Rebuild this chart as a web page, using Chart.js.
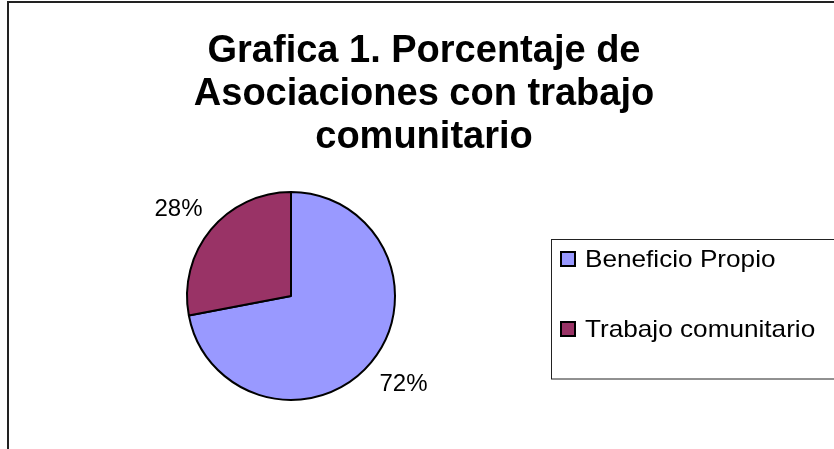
<!DOCTYPE html>
<html>
<head>
<meta charset="utf-8">
<script src="https://cdn.jsdelivr.net/npm/chart.js@4/dist/chart.umd.min.js"></script>
<style>
html,body{margin:0;padding:0;background:#fff;overflow:hidden;}
#wrap{position:relative;width:834px;height:449px;}
canvas{display:block;}
</style>
</head>
<body>
<div id="wrap"><canvas id="c" width="834" height="449"></canvas></div>
<script>
const categories = ["Beneficio Propio", "Trabajo comunitario"];
const values = [72, 28];
const colors = ["#9999FF", "#993366"];
const titleLines = ["Grafica 1. Porcentaje de", "Asociaciones con trabajo", "comunitario"];

const FONT = "'Liberation Sans', Arial, sans-serif";

const decor = {
  id: 'decor',
  beforeDraw(chart) {
    const ctx = chart.ctx;
    ctx.save();
    ctx.fillStyle = '#fff';
    ctx.fillRect(0, 0, chart.width, chart.height);
    ctx.strokeStyle = '#222';
    ctx.lineWidth = 2;
    ctx.strokeRect(8, 2, 900, 600);
    ctx.restore();
  },
  afterDraw(chart) {
    const ctx = chart.ctx;
    ctx.save();
    // title
    ctx.fillStyle = '#000';
    ctx.font = 'bold 38px ' + FONT;
    ctx.textAlign = 'center';
    ctx.textBaseline = 'alphabetic';
    const baselines = [62, 105, 148];
    titleLines.forEach((t, i) => ctx.fillText(t, 424, baselines[i]));

    // percentage labels
    const meta = chart.getDatasetMeta(0);
    const total = values.reduce((a, b) => a + b, 0);
    ctx.font = '24px ' + FONT;
    ctx.textBaseline = 'middle';
    meta.data.forEach((arc, i) => {
      const mid = (arc.startAngle + arc.endAngle) / 2;
      const x = arc.x + Math.cos(mid) * (arc.outerRadius + 42);
      const y = arc.y + Math.sin(mid) * (arc.outerRadius + 33) + 1;
      ctx.fillText(Math.round(values[i] / total * 100) + '%', x, y);
    });

    // legend
    ctx.strokeStyle = '#222';
    ctx.lineWidth = 1;
    ctx.strokeRect(551.5, 239.5, 400, 139.5);
    ctx.textAlign = 'left';
    ctx.textBaseline = 'alphabetic';
    const rows = [267, 337];
    categories.forEach((c, i) => {
      const by = rows[i];
      ctx.fillStyle = colors[i];
      ctx.fillRect(561, by - 15, 14, 14);
      ctx.strokeStyle = '#000';
      ctx.lineWidth = 2;
      ctx.strokeRect(561, by - 15, 14, 14);
      ctx.fillStyle = '#000';
      ctx.save();
      ctx.translate(585, by);
      ctx.scale(1.09, 1);
      ctx.font = '24px ' + FONT;
      ctx.fillText(c, 0, 0);
      ctx.restore();
    });
    ctx.restore();
  }
};

new Chart(document.getElementById('c'), {
  type: 'pie',
  data: {
    labels: categories,
    datasets: [{
      data: values,
      backgroundColor: colors,
      borderColor: '#000',
      borderWidth: 2,
      borderAlign: 'center'
    }]
  },
  options: {
    responsive: false,
    animation: false,
    radius: 104,
    layout: { padding: { left: 187, right: 834 - 395, top: 192, bottom: 449 - 400 } },
    plugins: {
      legend: { display: false },
      title: { display: false },
      tooltip: { enabled: false }
    }
  },
  plugins: [decor]
});
</script>
</body>
</html>
